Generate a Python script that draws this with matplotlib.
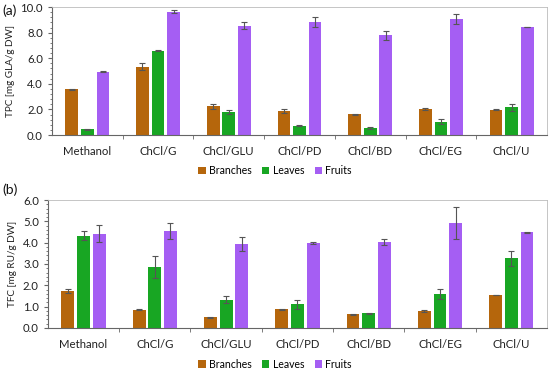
import matplotlib
matplotlib.use("Agg")
import matplotlib.pyplot as plt
import numpy as np
from matplotlib.ticker import MultipleLocator, FixedLocator

plt.rcParams['font.family'] = ['Lato', 'DejaVu Sans']

categories = ["Methanol", "ChCl/G", "ChCl/GLU", "ChCl/PD", "ChCl/BD", "ChCl/EG", "ChCl/U"]
series = ["Branches", "Leaves", "Fruits"]
colors = ["#B5660C", "#18A623", "#A55EF3"]

tpc_branches = [3.56, 5.35, 2.25, 1.88, 1.61, 2.03, 1.98]
tpc_leaves = [0.45, 6.60, 1.80, 0.73, 0.55, 1.04, 2.16]
tpc_fruits = [4.95, 9.65, 8.55, 8.83, 7.80, 9.04, 8.44]
tpc_branches_err = [0.05, 0.30, 0.20, 0.12, 0.03, 0.08, 0.03]
tpc_leaves_err = [0.06, 0.03, 0.12, 0.04, 0.04, 0.20, 0.30]
tpc_fruits_err = [0.04, 0.08, 0.30, 0.40, 0.35, 0.40, 0.03]

tfc_branches = [1.73, 0.86, 0.50, 0.88, 0.64, 0.80, 1.54]
tfc_leaves = [4.33, 2.86, 1.33, 1.10, 0.68, 1.59, 3.27]
tfc_fruits = [4.43, 4.54, 3.96, 3.99, 4.03, 4.91, 4.49]
tfc_branches_err = [0.10, 0.04, 0.02, 0.02, 0.02, 0.05, 0.02]
tfc_leaves_err = [0.20, 0.52, 0.17, 0.20, 0.02, 0.25, 0.35]
tfc_fruits_err = [0.40, 0.37, 0.33, 0.03, 0.15, 0.75, 0.02]

fig = plt.figure(figsize=(5.5, 3.7), dpi=100)
ax1 = fig.add_axes([0.0945, 0.635, 0.90, 0.346])
ax2 = fig.add_axes([0.087, 0.114, 0.9075, 0.345])

def draw(ax, vals, errs, ymax, ystep, ylabel):
    x = np.arange(len(categories))
    w = 0.18
    offs = [-0.22, 0.0, 0.22]
    handles = []
    for v, e, c, o, s in zip(vals, errs, colors, offs, series):
        h = ax.bar(x + o, v, w, color=c, label=s, zorder=2)
        ax.errorbar(x + o, v, yerr=e, fmt='none', ecolor='#555555',
                    elinewidth=0.8, capsize=2.2, capthick=0.8, zorder=3)
        handles.append(h)
    ax.set_xlim(-0.5, len(categories) - 0.5)
    ax.set_ylim(0, ymax)
    ax.yaxis.set_major_locator(MultipleLocator(ystep))
    ax.yaxis.set_minor_locator(MultipleLocator(ystep / 5))
    ax.yaxis.set_major_formatter(matplotlib.ticker.FormatStrFormatter('%.1f'))
    ax.set_xticks(x)
    ax.set_xticklabels(categories)
    ax.xaxis.set_minor_locator(FixedLocator(np.arange(0.5, len(categories) - 0.5, 1)))
    ax.tick_params(axis='x', which='major', length=0, labelsize=8.2, pad=8, colors='#222222')
    ax.tick_params(axis='x', which='minor', length=3, color='#666666', direction='out')
    ax.tick_params(axis='y', which='major', length=3, labelsize=8.2, colors='#222222')
    ax.tick_params(axis='y', which='minor', length=1.5)
    ax.tick_params(axis='y', which='both', color='#666666')
    for sp in ['top', 'right']:
        ax.spines[sp].set_color('#bbbbbb')
        ax.spines[sp].set_linewidth(0.6)
    for sp in ['left', 'bottom']:
        ax.spines[sp].set_color('#666666')
        ax.spines[sp].set_linewidth(0.8)
    ax.set_ylabel(ylabel, fontsize=7.2, color='#222222', labelpad=4)
    return handles

h1 = draw(ax1, [tpc_branches, tpc_leaves, tpc_fruits],
          [tpc_branches_err, tpc_leaves_err, tpc_fruits_err], 10, 2, "TPC [mg GLA/g DW]")
h2 = draw(ax2, [tfc_branches, tfc_leaves, tfc_fruits],
          [tfc_branches_err, tfc_leaves_err, tfc_fruits_err], 6, 1, "TFC [mg RU/g DW]")

fig.text(0.004, 0.97, "(a)", fontsize=10, va='center', ha='left', color='#111111')
fig.text(0.004, 0.488, "(b)", fontsize=10, va='center', ha='left', color='#111111')

for h, y in [(h1, 0.538), (h2, 0.016)]:
    fig.legend(h, series, loc='center', bbox_to_anchor=(0.5, y), ncol=3, frameon=False,
               fontsize=7.6, handlelength=0.7, handleheight=0.7, handletextpad=0.3,
               columnspacing=1.0)

fig.savefig("out.png", dpi=100)
